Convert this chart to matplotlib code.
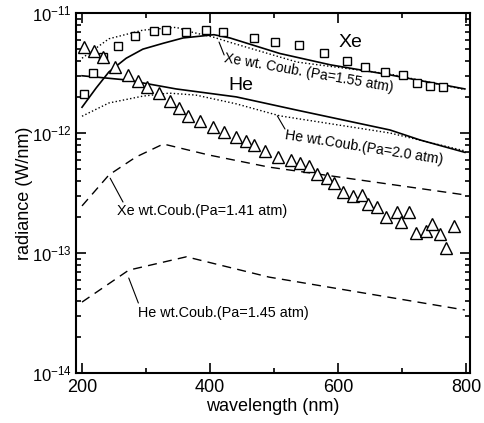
import numpy as np
import matplotlib
matplotlib.use("Agg")
import matplotlib.pyplot as plt
from matplotlib.ticker import MultipleLocator, FixedLocator, LogLocator, NullFormatter

plt.rcParams['font.family'] = ['Liberation Sans', 'DejaVu Sans']
plt.rcParams['mathtext.fontset'] = 'custom'
plt.rcParams['mathtext.rm'] = 'Liberation Sans'
plt.rcParams['mathtext.it'] = 'Liberation Sans:italic'

# measured Xe (squares)
xe_wl = [203, 217, 233, 256, 283, 312, 331, 362, 394, 420, 469, 502, 539,
         578, 614, 642, 673, 702, 723, 744, 764]
xe_rad = [2.11e-12, 3.16e-12, 4.3e-12, 5.3e-12, 6.4e-12, 7.1e-12, 7.2e-12,
          6.95e-12, 7.2e-12, 6.95e-12, 6.2e-12, 5.7e-12, 5.4e-12, 4.6e-12,
          4.0e-12, 3.55e-12, 3.2e-12, 3.05e-12, 2.6e-12, 2.47e-12, 2.42e-12]

# measured He (triangles)
he_wl = [203, 219, 233, 252, 272, 288, 302, 320, 338, 352, 366, 384, 405,
         422, 441, 456, 469, 486, 506, 527, 541, 555, 567, 583, 594, 608,
         623, 637, 647, 661, 675, 692, 698, 711, 722, 737, 747, 759, 769, 781]
he_rad = [5.2e-12, 4.8e-12, 4.3e-12, 3.55e-12, 3.04e-12, 2.7e-12, 2.42e-12,
          2.15e-12, 1.85e-12, 1.62e-12, 1.39e-12, 1.26e-12, 1.12e-12,
          1.02e-12, 9.3e-13, 8.6e-13, 7.9e-13, 7.1e-13, 6.3e-13, 5.96e-13,
          5.6e-13, 5.3e-13, 4.55e-13, 4.2e-13, 3.83e-13, 3.2e-13, 2.99e-13,
          3.05e-13, 2.57e-13, 2.42e-13, 2.0e-13, 2.2e-13, 1.81e-13, 2.2e-13,
          1.47e-13, 1.53e-13, 1.75e-13, 1.44e-13, 1.1e-13, 1.68e-13]

# calculated Xe / He (solid)
xe_calc_wl = [200, 222, 242, 269, 295, 327, 358, 389, 406, 431, 509, 588, 681, 798]
xe_calc = [1.64e-12, 2.37e-12, 3.23e-12, 4.2e-12, 5.0e-12, 5.6e-12, 6.2e-12,
           6.45e-12, 6.6e-12, 6.2e-12, 4.6e-12, 3.7e-12, 3.05e-12, 2.33e-12]
he_calc_wl = [200, 269, 347, 441, 536, 681, 728, 798]
he_calc = [3.0e-12, 2.77e-12, 2.33e-12, 2.0e-12, 1.55e-12, 1.06e-12, 8.75e-13, 6.9e-13]

# with Coulomb (dotted), Pa=1.55 / 2.0 atm
xe_c155_wl = [200, 242, 295, 347, 373, 405, 431, 536, 681, 798]
xe_c155 = [4.2e-12, 6.1e-12, 7.2e-12, 7.6e-12, 6.9e-12, 6.3e-12, 5.7e-12,
           3.9e-12, 3.1e-12, 2.3e-12]
he_c20_wl = [200, 242, 295, 336, 378, 441, 509, 681, 798]
he_c20 = [1.38e-12, 1.78e-12, 2.03e-12, 2.15e-12, 2.07e-12, 1.75e-12,
          1.39e-12, 1.0e-12, 7.1e-13]

# with Coulomb (dashed), Pa=1.41 / 1.45 atm
xe_c141_wl = [200, 242, 284, 327, 398, 492, 798]
xe_c141 = [2.47e-13, 4.47e-13, 6.3e-13, 8.1e-13, 6.56e-13, 5.2e-13, 3.05e-13]
he_c145_wl = [200, 273, 363, 492, 798]
he_c145 = [3.9e-14, 7.2e-14, 9.3e-14, 6.3e-14, 3.35e-14]

y_ticks = [1e-14, 1e-13, 1e-12, 1e-11]

fig = plt.figure(figsize=(4.85, 4.23), dpi=100)
ax = fig.add_axes([0.1567, 0.1182, 0.8124, 0.851])

ax.plot(xe_calc_wl, xe_calc, '-', color='black', lw=1.2)
ax.plot(he_calc_wl, he_calc, '-', color='black', lw=1.2)
ax.plot(xe_c155_wl, xe_c155, ':', color='black', lw=1.0)
ax.plot(he_c20_wl, he_c20, ':', color='black', lw=1.0)
ax.plot(xe_c141_wl, xe_c141, '--', color='black', lw=1.0, dashes=(6.5, 4.5))
ax.plot(he_c145_wl, he_c145, '--', color='black', lw=1.0, dashes=(6.5, 4.5))
ax.plot(xe_wl, xe_rad, 's', markersize=6.3, markerfacecolor='white',
        markeredgecolor='black', markeredgewidth=1.0, linestyle='none')
ax.plot(he_wl, he_rad, '^', markersize=8, markerfacecolor='white',
        markeredgecolor='black', markeredgewidth=1.0, linestyle='none')

ax.set_yscale('log')
ax.set_xlim(190.6, 806)
ax.set_ylim(1e-14, 1e-11)

ax.xaxis.set_major_locator(MultipleLocator(200))
ax.xaxis.set_minor_locator(MultipleLocator(100))
ax.yaxis.set_major_locator(FixedLocator(y_ticks))
ax.yaxis.set_minor_locator(LogLocator(base=10, subs=np.arange(2, 10), numticks=10))
ax.yaxis.set_minor_formatter(NullFormatter())

ax.tick_params(which='both', direction='in', top=True, right=True, width=1.2)
ax.tick_params(axis='x', labelsize=13, pad=4)
ax.tick_params(axis='y', labelsize=12, pad=3)
ax.tick_params(which='major', length=7)
ax.tick_params(which='minor', length=3.5)
for s in ax.spines.values():
    s.set_linewidth(1.5)

ax.set_xlabel('wavelength (nm)', fontsize=13, labelpad=2)
ax.set_ylabel('radiance (W/nm)', fontsize=13, labelpad=-1)

# labels and leader lines
lead = dict(arrowstyle='-', color='black', lw=0.8, shrinkA=0, shrinkB=0)
ax.annotate('', xy=(414, 5.73e-12), xytext=(422, 4.47e-12), arrowprops=lead)
ax.annotate('', xy=(505, 1.39e-12), xytext=(517, 1.08e-12), arrowprops=lead)
ax.annotate('', xy=(244, 4.2e-13), xytext=(264, 2.66e-13), arrowprops=lead)
ax.annotate('', xy=(273, 6.19e-14), xytext=(288, 3.83e-14), arrowprops=lead)

ax.text(422, 4.2e-12, 'Xe wt. Coub. (Pa=1.55 atm)', fontsize=10, rotation=-10,
        ha='left', va='center', rotation_mode='anchor')
ax.text(517, 9.6e-13, 'He wt.Coub.(Pa=2.0 atm)', fontsize=10.2, rotation=-9,
        ha='left', va='center', rotation_mode='anchor')
ax.text(255, 2.24e-13, 'Xe wt.Coub.(Pa=1.41 atm)', fontsize=10.4,
        ha='left', va='center')
ax.text(287, 3.16e-14, 'He wt.Coub.(Pa=1.45 atm)', fontsize=10.4,
        ha='left', va='center')
ax.text(619, 5.73e-12, 'Xe', fontsize=14, ha='center', va='center')
ax.text(448, 2.51e-12, 'He', fontsize=14, ha='center', va='center')

fig.savefig('out.png', dpi=100)
